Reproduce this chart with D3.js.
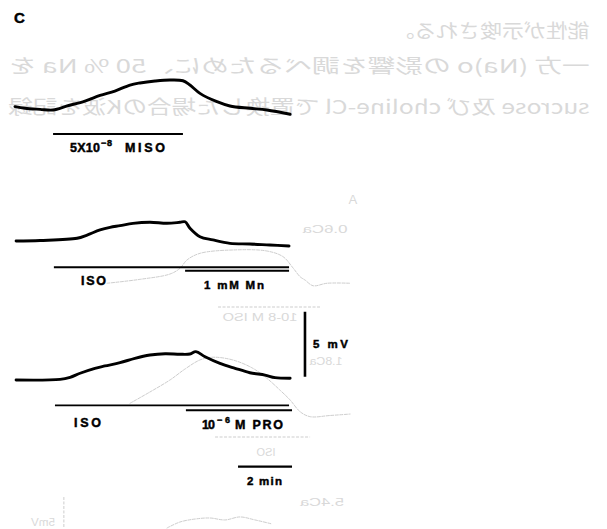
<!DOCTYPE html>
<html>
<head>
<meta charset="utf-8">
<script src="https://cdn.jsdelivr.net/npm/d3@7"></script>
<style>
  html, body { margin: 0; padding: 0; background: #fff; }
  svg { display: block; }
</style>
</head>
<body>
<svg id="fig" width="607" height="529"></svg>
<script>
// ---- Records: time (min) and change of membrane potential (mV) ----
// C: 5x10^-8 M isoproterenol alone
const isoTime = [0, 0.37, 0.93, 1.41, 1.93, 2.59, 3.15, 3.70, 4.26, 4.63, 5.19, 5.74, 6.22, 6.48, 6.85, 7.48, 7.96, 8.70, 9.33, 10.19];
const isoMv   = [0.26, 0.13, 0.05, 0, 0.31, 0.69, 1.12, 1.46, 1.92, 2.08, 2.23, 2.31, 2.25, 1.92, 1.28, 0.64, 0.31, 0.13, 0, -0.33];

// ISO followed by 1 mM Mn
const mnTime = [0.04, 0.93, 2.30, 2.67, 3.15, 3.52, 3.89, 4.37, 5.00, 5.63, 6.11, 6.30, 6.48, 6.85, 7.33, 7.96, 8.70, 9.44, 10.15];
const mnMv   = [0, 0.04, 0.21, 0.46, 0.85, 1.05, 1.18, 1.36, 1.44, 1.36, 1.44, 1.48, 0.98, 0.33, 0.08, -0.18, -0.23, -0.31, -0.38];

// ISO followed by 10^-6 M propranolol
const proTime = [0.04, 1.67, 2.04, 2.41, 2.96, 3.33, 3.89, 4.44, 5.00, 5.56, 6.11, 6.48, 6.70, 7.04, 7.59, 8.15, 8.70, 9.26, 9.63, 10.19];
const proMv   = [0, 0.05, 0.21, 0.52, 0.90, 1.08, 1.33, 1.67, 1.92, 2.02, 1.98, 2.00, 2.18, 1.79, 1.28, 0.90, 0.56, 0.38, 0.18, 0.13];

// Faint records showing through from the reverse side of the page
const ghostATime = [3.41, 4.63, 5.74, 6.11, 6.37, 6.85, 8.07, 9.33, 9.93, 10.30, 10.56, 10.74, 11.04, 11.56, 12.41];
const ghostAMv   = [-3.25, -2.95, -2.54, -2.10, -1.46, -0.95, -0.69, -0.77, -1.21, -2.08, -2.75, -3.00, -3.44, -3.25, -3.25];
const ghostBTime = [4.26, 5.00, 5.74, 6.30, 6.85, 7.33, 8.07, 8.81, 9.33, 9.81, 10.19, 10.56, 10.93, 11.67, 12.41];
const ghostBMv   = [-1.79, -0.92, 0, 0.85, 1.54, 1.75, 1.54, 0.90, 0.13, -0.77, -1.54, -2.44, -2.82, -2.73, -2.62];
const ghostCTime = [5.63, 6.11, 6.67, 7.22, 7.78, 8.33, 8.89, 9.52];
const ghostCMv   = [0, 0.46, 0.69, 0.77, 0.62, 0.85, 0.62, 0.31];

// Drug application periods (min)
const isoTopApp = [1.41, 6.22];
const isoMnApp  = [1.44, 10.15];
const mnApp     = [6.30, 10.15];
const isoProApp = [1.48, 10.15];
const proApp    = [6.33, 10.26];

// Calibration
const barMinutes = 2;
const barMv = 5;

// ---- Drawing ----
const svg = d3.select("#fig");

// common time axis: 27 px per minute
const x = d3.scaleLinear().domain([0, 10]).range([15, 285]);
// one voltage scale per record (13 px per mV), baselines stacked down the page
const yScale = base => d3.scaleLinear().domain([0, 5]).range([base, base - 65]);
const yTop = yScale(110), yMn = yScale(241), yPro = yScale(380), yGhost = yScale(528);

const ink = "#000";
const ghost = "#cdcdcd";

function trace(times, vals, y, opts) {
  const pts = times.map((t, i) => [t, vals[i]]);
  const line = d3.line().x(d => x(d[0])).y(d => y(d[1])).curve(d3.curveCatmullRom.alpha(0.5));
  svg.append("path")
    .attr("d", line(pts))
    .attr("fill", "none")
    .attr("stroke", opts.color)
    .attr("stroke-width", opts.width)
    .attr("stroke-dasharray", opts.dash || null)
    .attr("stroke-linejoin", "round")
    .attr("stroke-linecap", "round");
}

function hbar(span, yPos, width, color, dash) {
  svg.append("line")
    .attr("x1", x(span[0])).attr("x2", x(span[1]))
    .attr("y1", yPos).attr("y2", yPos)
    .attr("stroke", color).attr("stroke-width", width)
    .attr("stroke-dasharray", dash || null);
}

function label(str, lx, base, size, len) {
  const t = svg.append("text")
    .attr("x", lx).attr("y", base)
    .attr("font-family", "'Liberation Sans', Arial, Helvetica, sans-serif")
    .attr("font-weight", "bold")
    .attr("font-size", size)
    .attr("fill", ink)
    .attr("stroke", ink)
    .attr("stroke-width", 0.45)
    .text(str);
  if (len) t.attr("textLength", len).attr("lengthAdjust", "spacing");
  return t;
}

// show-through text from the back of the page: mirrored left-right, very faint
function mirrored(str, cx, cy, size, len, family) {
  const t = svg.append("text")
    .attr("x", 0).attr("y", 0)
    .attr("dy", "0.35em")
    .attr("text-anchor", "middle")
    .attr("font-family", family || "'Liberation Sans', Arial, sans-serif")
    .attr("font-size", size)
    .attr("fill", "#d9d9d9")
    .text(str);
  const natural = t.node().getComputedTextLength() || 1;
  const k = len ? len / natural : 1;
  t.attr("transform", `translate(${cx},${cy}) scale(${-k},1)`);
}

const jp = "'Noto Sans CJK JP', 'Noto Sans', sans-serif";
mirrored("能性が示唆される。", 491, 31, 19, 197, jp);
mirrored("一方 (Na)o の影響を調べるために、50 % Na を", 299, 66, 19, 582, jp);
mirrored("sucrose 及び choline-Cl で置換した場合のK波を記録", 299, 107, 19, 582, jp);
mirrored("A", 353, 199, 13);
mirrored("0.6Ca", 325, 229, 11, 45);
mirrored("10-8 M ISO", 260, 317, 10, 75);
mirrored("1.8Ca", 326, 361, 11, 33);
mirrored("ISO", 266, 452, 10, 19);
mirrored("5.4Ca", 322, 502, 11, 44);
mirrored("5mV", 43, 522, 10, 24);

// faint traces and bars from the reverse side
trace(ghostATime, ghostAMv, yMn, { color: ghost, width: 1, dash: "3,1.5" });
trace(ghostBTime, ghostBMv, yPro, { color: ghost, width: 1, dash: "3,1.5" });
trace(ghostCTime, ghostCMv, yGhost, { color: ghost, width: 1, dash: "3,1.5" });
hbar([7.52, 11.30], 307, 1, ghost, "3,1.5");
hbar([7.41, 10.93], 437, 1, ghost, "3,1.5");
svg.append("line")
  .attr("x1", x(1.81)).attr("x2", x(1.81))
  .attr("y1", yGhost(0.08)).attr("y2", yGhost(2.38))
  .attr("stroke", ghost).attr("stroke-width", 1).attr("stroke-dasharray", "3,1.5");

// panel letter
label("C", 14, 23, 15, null);

// record 1: ISO alone
trace(isoTime, isoMv, yTop, { color: ink, width: 2.9 });
hbar(isoTopApp, 134, 2.2, ink);
label("5X10", 70, 151.5, 12.5, 30);
label("\u22128", 101, 145.5, 9, 11);
label("M", 125, 151.5, 12.5, null);
label("ISO", 138, 151.5, 12.5, 27);

// record 2: ISO then Mn
trace(mnTime, mnMv, yMn, { color: ink, width: 2.9 });
hbar(isoMnApp, 267.3, 1.9, ink);
hbar(mnApp, 270.8, 1.9, ink);
label("ISO", 81, 285, 12.5, 25);
label("1 mM Mn", 204, 289, 11.5, 60);

// record 3: ISO then propranolol
trace(proTime, proMv, yPro, { color: ink, width: 2.9 });
hbar(isoProApp, 405.4, 1.9, ink);
hbar(proApp, 410.3, 1.9, ink);
label("ISO", 74, 427, 12.5, 27);
label("10", 202, 429, 12.5, 13);
label("\u22126", 217, 423, 9, 13);
label("M PRO", 235, 429, 12.5, 48);

// calibration bars
const calT = 10.74, calV0 = 0.25;
svg.append("line")
  .attr("x1", x(calT)).attr("x2", x(calT))
  .attr("y1", yPro(calV0)).attr("y2", yPro(calV0 + barMv))
  .attr("stroke", ink).attr("stroke-width", 2.6);
label(`${barMv} mV`, 313, 348, 11.5, 35);

const t2 = 8.26;
hbar([t2, t2 + barMinutes], 466.7, 2.2, ink);
label(`${barMinutes} min`, 247, 485, 11.5, 35);
</script>
</body>
</html>
